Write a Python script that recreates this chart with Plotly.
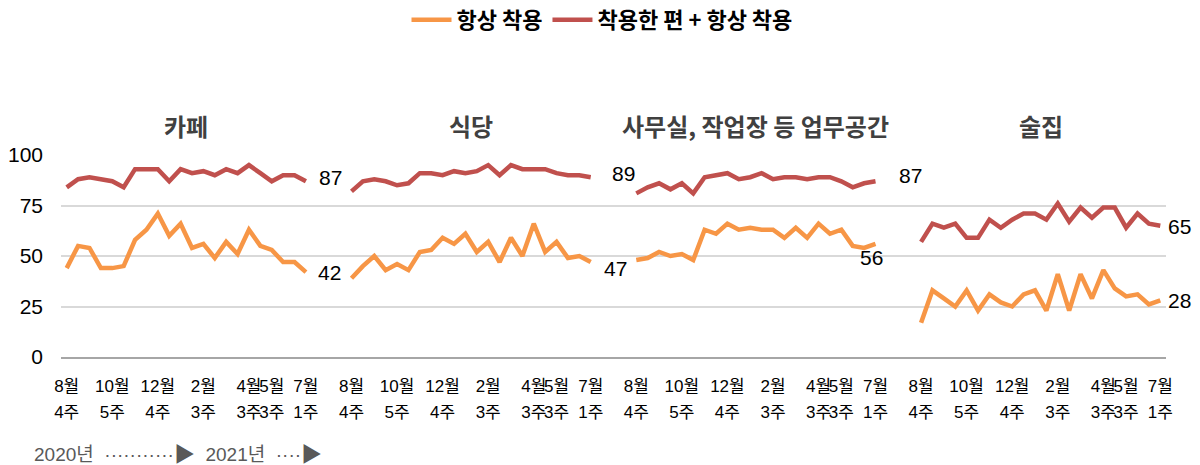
import plotly.graph_objects as go

# ---------------- data ----------------
panel_titles = ["카페", "식당", "사무실, 작업장 등 업무공간", "술집"]
series_names = ["항상 착용", "착용한 편 + 항상 착용"]

tick_month = ["8월", "10월", "12월", "2월", "4월", "5월", "7월"]
tick_week = ["4주", "5주", "4주", "3주", "3주", "3주", "1주"]
tick_index = [0, 4, 8, 12, 16, 18, 21]

always_cafe = [44, 55, 54, 44, 44, 45, 58, 63, 71, 60, 66, 54, 56, 49, 57, 51, 63, 55, 53, 47, 47, 42]
mostly_cafe = [84, 88, 89, 88, 87, 84, 93, 93, 93, 87, 93, 91, 92, 90, 93, 91, 95, 91, 87, 90, 90, 87]

always_rest = [39, 45, 50, 43, 46, 43, 52, 53, 59, 56, 61, 52, 57, 47, 59, 50, 66, 52, 57, 49, 50, 47]
mostly_rest = [82, 87, 88, 87, 85, 86, 91, 91, 90, 92, 91, 92, 95, 90, 95, 93, 93, 93, 91, 90, 90, 89]

always_office = [48, 49, 52, 50, 51, 48, 63, 61, 66, 63, 64, 63, 63, 59, 64, 59, 66, 61, 63, 55, 54, 56]
mostly_office = [81, 84, 86, 83, 86, 81, 89, 90, 91, 88, 89, 91, 88, 89, 89, 88, 89, 89, 87, 84, 86, 87]

always_bar = [17, 33, 29, 25, 33, 23, 31, 27, 25, 31, 33, 23, 41, 23, 41, 29, 43, 34, 30, 31, 26, 28]
mostly_bar = [57, 66, 64, 66, 59, 59, 68, 64, 68, 71, 71, 68, 76, 67, 74, 69, 74, 74, 64, 71, 66, 65]

footer_years = ["2020년", "2021년"]
footer_dots = [11, 4]

# ---------------- layout constants ----------------
W, H = 1200, 465
ML, MR, MT, MB = 61, 34, 155, 108
PLOT_W = W - ML - MR
PLOT_H = H - MT - MB
GAP = 3  # empty categories between panels

always_all = [always_cafe, always_rest, always_office, always_bar]
mostly_all = [mostly_cafe, mostly_rest, mostly_office, mostly_bar]
n_pts = len(always_cafe)
stride = n_pts + GAP

ORANGE = "#F79646"
RED = "#C0504D"
NUM_FONT = "Liberation Sans, Arial, Noto Sans CJK KR, sans-serif"
KR_FONT = "Noto Sans CJK KR, sans-serif"


def px_to_paper_x(px):
    return (px - ML) / PLOT_W


def px_to_paper_y(py):
    return (H - MB - py) / PLOT_H


def build(series_list):
    xs, ys = [], []
    for p, vals in enumerate(series_list):
        if p > 0:
            xs.append(p * stride - 1)
            ys.append(None)
        for i, v in enumerate(vals):
            xs.append(p * stride + i)
            ys.append(v)
    return xs, ys


fig = go.Figure()
for name, data, color, xa in [(series_names[0], always_all, ORANGE, "x"),
                              (series_names[1], mostly_all, RED, "x2")]:
    xs, ys = build(data)
    fig.add_trace(go.Scatter(
        x=xs, y=ys, mode="lines", name=name, xaxis=xa, yaxis="y",
        line=dict(color=color, width=4.5), connectgaps=False,
        hoverinfo="skip",
    ))

tickvals = [p * stride + t for p in range(len(panel_titles)) for t in tick_index]
ticktext_m = tick_month * len(panel_titles)
ticktext_w = tick_week * len(panel_titles)
xrange = [-0.5, (len(panel_titles) - 1) * stride + n_pts - 0.5]

annotations = []
# panel titles
for p, t in enumerate(panel_titles):
    annotations.append(dict(
        x=p * stride + (n_pts - 1) / 2, xref="x",
        y=px_to_paper_y(125), yref="paper",
        text=t, showarrow=False, xanchor="center", yanchor="middle",
        font=dict(family=KR_FONT, size=24, color="#404040", weight="bold"),
    ))

# end labels (style offsets)
label_offsets = {
    (0, 0): ("left", 10, 0), (0, 1): ("left", 11, 4),
    (1, 0): ("left", 11, -6), (1, 1): ("left", 19, 4),
    (2, 0): ("center", -4, -14), (2, 1): ("left", 21, 6),
    (3, 0): ("left", 6, 0), (3, 1): ("left", 6, -1),
}
for p in range(len(panel_titles)):
    for s, data in enumerate([always_all, mostly_all]):
        v = data[p][-1]
        anchor, xs_, ys_ = label_offsets[(p, s)]
        annotations.append(dict(
            x=p * stride + n_pts - 1, xref="x", y=v, yref="y",
            text=str(v), showarrow=False, xanchor=anchor, yanchor="middle",
            xshift=xs_, yshift=ys_,
            font=dict(family=NUM_FONT, size=21, color="#000000"),
        ))


# footer
def small(s):
    return '<span style="font-size:19px">' + s + "</span>"


footer_text = (small(footer_years[0] + "  " + "·" * footer_dots[0]) + "▶" + small("  ")
               + small(footer_years[1] + "  " + "·" * footer_dots[1]) + "▶")
annotations.append(dict(
    x=px_to_paper_x(32), xref="paper", y=px_to_paper_y(453), yref="paper",
    text=footer_text, showarrow=False, xanchor="left", yanchor="middle",
    font=dict(family=NUM_FONT, size=21, color="#595959"),
))

fig.update_layout(
    width=W, height=H,
    margin=dict(l=ML, r=MR, t=MT, b=MB, pad=0, autoexpand=False),
    paper_bgcolor="white", plot_bgcolor="white",
    showlegend=True,
    legend=dict(
        orientation="h", x=px_to_paper_x(602), xanchor="center",
        y=px_to_paper_y(20), yanchor="middle",
        font=dict(family=KR_FONT, size=22, color="#000000", weight="bold"),
        itemwidth=40, traceorder="normal", bgcolor="rgba(0,0,0,0)",
    ),
    xaxis=dict(
        range=xrange, tickmode="array", tickvals=tickvals, ticktext=ticktext_m,
        showgrid=False, zeroline=False, showline=True, linecolor="#A6A6A6", linewidth=1.5,
        ticks="", tickangle=0, automargin=False,
        tickfont=dict(family=NUM_FONT, size=17, color="#000000"),
        ticklabelstandoff=13,
    ),
    xaxis2=dict(
        range=xrange, overlaying="x", anchor="y", side="bottom",
        tickmode="array", tickvals=tickvals, ticktext=ticktext_w,
        showgrid=False, zeroline=False, showline=False, ticks="",
        tickangle=0, automargin=False,
        tickfont=dict(family=NUM_FONT, size=17, color="#000000"),
        ticklabelstandoff=43,
    ),
    yaxis=dict(
        range=[0, 100], tickmode="array", tickvals=[0, 25, 50, 75, 100],
        showgrid=True, gridcolor="#D9D9D9", gridwidth=1.5, zeroline=False,
        showline=False, ticks="", ticklabelstandoff=17, automargin=False,
        tickfont=dict(family=NUM_FONT, size=21, color="#000000"),
    ),
    annotations=annotations,
)

fig.write_html("out.html", config={"displayModeBar": False},
               post_script="document.body.style.margin='0';")
